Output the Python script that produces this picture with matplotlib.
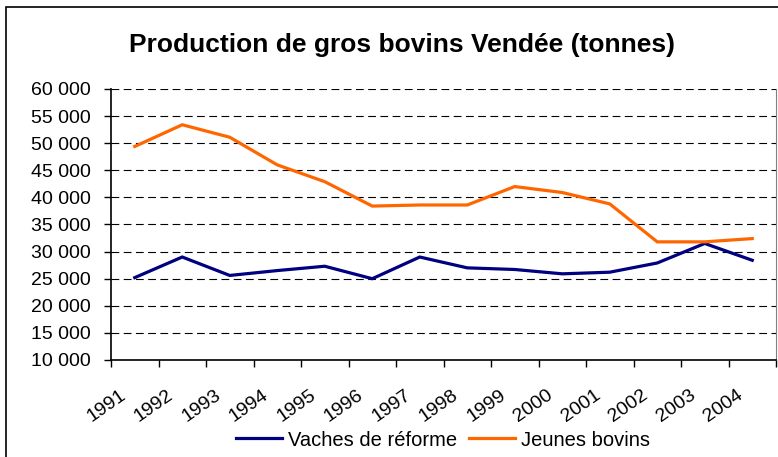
# Production de gros bovins Vendee
import matplotlib.pyplot as plt
from matplotlib.patches import Rectangle
from matplotlib.ticker import FuncFormatter
import matplotlib.transforms as mtransforms

plt.rcParams['font.family'] = ['Liberation Sans', 'DejaVu Sans']

years = ['1991', '1992', '1993', '1994', '1995', '1996', '1997',
         '1998', '1999', '2000', '2001', '2002', '2003', '2004']
vaches = [25200, 29000, 25600, 26500, 27300, 25000, 29000,
          27000, 26700, 25900, 26200, 27900, 31500, 28400]
jeunes = [49400, 53400, 51100, 46000, 42900, 38400, 38600,
          38600, 42000, 40900, 38800, 31800, 31800, 32400]

fig = plt.figure(figsize=(7.78, 4.57), dpi=100)
ax = fig.add_axes([111/778, 1 - 360/457, 665/778, 271/457])

x = range(len(years))
ax.plot(x, vaches, color='#000080', lw=2.3, label='Vaches de réforme', solid_joinstyle='miter')
ax.plot(x, jeunes, color='#FF6600', lw=2.3, label='Jeunes bovins', solid_joinstyle='miter')

ax.set_xlim(-0.5, len(years) - 0.5)
ax.set_ylim(10000, 60000)
ax.set_yticks(range(10000, 60001, 5000))
ax.yaxis.set_major_formatter(FuncFormatter(lambda v, p: '{:,}'.format(int(v)).replace(',', ' ')))
ax.grid(axis='y', color='black', lw=0.8, linestyle=(0, (7, 4)))
ax.set_axisbelow(True)

# ticks between categories, labels under category centres
ax.set_xticks([i - 0.5 for i in range(len(years) + 1)])
ax.set_xticklabels([])
ax.set_xticks(list(x), minor=True)
ax.set_xticklabels(years, minor=True, rotation=35, ha='right', va='top', fontsize=14)
ax.tick_params(axis='x', which='minor', length=0, pad=19)
offset = mtransforms.ScaledTranslation(-6/100, 0, fig.dpi_scale_trans)
for lab in ax.get_xticklabels(minor=True):
    lab.set_transform(lab.get_transform() + offset)
ax.tick_params(axis='x', which='major', length=5, direction='out', width=1)
ax.tick_params(axis='y', length=5, direction='out', width=1, labelsize=14, pad=9.5)

ax.spines['top'].set_visible(False)
ax.spines['right'].set_color('#808080')
ax.spines['left'].set_linewidth(1.2)
ax.spines['bottom'].set_linewidth(1.2)

fig.text(402/778, 1 - 52/457, 'Production de gros bovins Vendée (tonnes)',
         ha='center', va='baseline', fontsize=19, fontweight='bold')

fig.legend(loc='center', bbox_to_anchor=(443/778, 1 - 440/457), ncol=2, frameon=False,
           fontsize=14.5, handlelength=2.3, columnspacing=0.58, handletextpad=0.3)

# outer frame, cut on right and bottom like the source
fig.patches.append(Rectangle((6/778, -0.2), 1.0, 1.2 - 7/457, transform=fig.transFigure,
                             fill=False, edgecolor='black', lw=1.2))

fig.savefig('out.png', dpi=100)
